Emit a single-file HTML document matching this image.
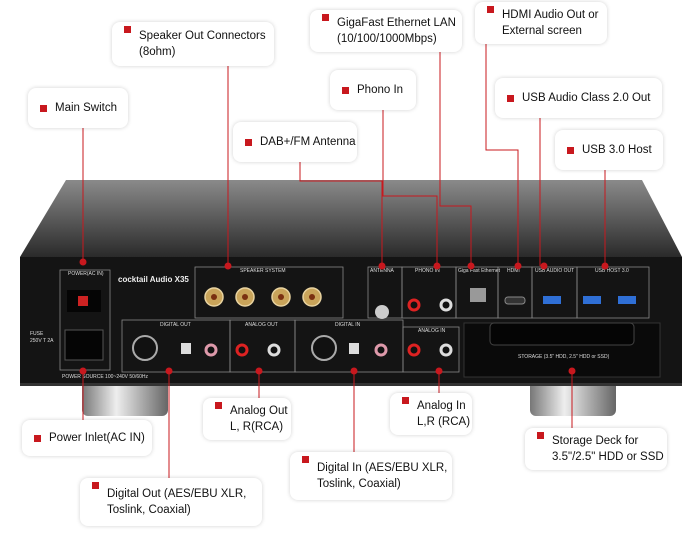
<!DOCTYPE html>
<html><head><meta charset="utf-8"><style>
body{margin:0;width:700px;height:536px;background:#fff;position:relative;overflow:hidden;font-family:"Liberation Sans",sans-serif}
.b{position:absolute;background:#fff;border-radius:8px;box-shadow:0 0 4px rgba(0,0,0,.18);font-size:11.5px;color:#111;line-height:16px;box-sizing:border-box;padding:0 0 0 12px;display:flex;align-items:center;white-space:nowrap}
.b i{display:inline-block;width:7px;height:7px;background:#c8181e;margin-right:8px;flex:none;align-self:flex-start;margin-top:4px}
.b.c i{align-self:center;margin-top:0}
.b span{display:block}
svg{position:absolute;left:0;top:0}
</style></head><body>
<svg width="700" height="536" viewBox="0 0 700 536">
<defs>
<linearGradient id="tp" x1="0" y1="0" x2="0" y2="1"><stop offset="0" stop-color="#8a8a8a"/><stop offset="0.5" stop-color="#5a5a5a"/><stop offset="1" stop-color="#2a2a2a"/></linearGradient>
<linearGradient id="ft" x1="0" y1="0" x2="1" y2="0"><stop offset="0" stop-color="#777"/><stop offset="0.4" stop-color="#eee"/><stop offset="1" stop-color="#666"/></linearGradient>
</defs>
<rect x="82" y="380" width="86" height="36" rx="6" fill="url(#ft)"/>
<rect x="530" y="380" width="86" height="36" rx="6" fill="url(#ft)"/>
<polygon points="20,257 682,257 642,180 66,180" fill="url(#tp)"/>
<rect x="20" y="257" width="662" height="128" fill="#141414"/>
<rect x="20" y="383" width="662" height="3" fill="#333"/>
<g fill="none" stroke="#888" stroke-width="0.8">
<rect x="60" y="270" width="50" height="100"/>
<rect x="195" y="267" width="148" height="51"/>
<rect x="122" y="320" width="108" height="52"/>
<rect x="230" y="320" width="65" height="52"/>
<rect x="295" y="320" width="108" height="52"/>
<rect x="368" y="267" width="34" height="51"/>
<rect x="402" y="267" width="54" height="51"/>
<rect x="403" y="327" width="56" height="45"/>
<rect x="456" y="267" width="42" height="51"/>
<rect x="498" y="267" width="34" height="51"/>
<rect x="532" y="267" width="45" height="51"/>
<rect x="577" y="267" width="72" height="51"/>
</g>
<rect x="464" y="323" width="196" height="54" fill="#0a0a0a" stroke="#333"/>
<rect x="490" y="323" width="144" height="22" rx="4" fill="#050505" stroke="#444"/>
<rect x="67" y="290" width="34" height="22" fill="#050505"/><rect x="78" y="296" width="10" height="10" fill="#c22"/>
<rect x="65" y="330" width="38" height="30" fill="#050505" stroke="#555"/>
<g fill="#c9a45a" stroke="#e8d3a0" stroke-width="1.5"><circle cx="214" cy="297" r="9"/><circle cx="245" cy="297" r="9"/><circle cx="281" cy="297" r="9"/><circle cx="312" cy="297" r="9"/></g>
<g fill="#7a3010"><circle cx="214" cy="297" r="3"/><circle cx="245" cy="297" r="3"/><circle cx="281" cy="297" r="3"/><circle cx="312" cy="297" r="3"/></g>
<circle cx="145" cy="348" r="12" fill="#111" stroke="#aaa" stroke-width="2"/>
<circle cx="324" cy="348" r="12" fill="#111" stroke="#aaa" stroke-width="2"/>
<circle cx="382" cy="312" r="7" fill="#ccc"/>
<g stroke-width="3" fill="#111"><circle cx="414" cy="305" r="5" stroke="#d22"/><circle cx="446" cy="305" r="5" stroke="#ddd"/><circle cx="242" cy="350" r="5" stroke="#d22"/><circle cx="274" cy="350" r="5" stroke="#ddd"/><circle cx="414" cy="350" r="5" stroke="#d22"/><circle cx="446" cy="350" r="5" stroke="#ddd"/><circle cx="211" cy="350" r="5" stroke="#d9a"/><circle cx="381" cy="350" r="5" stroke="#d9a"/></g>
<rect x="181" y="343" width="10" height="11" fill="#ddd"/><rect x="349" y="343" width="10" height="11" fill="#ddd"/>
<rect x="470" y="288" width="16" height="14" fill="#999"/>
<rect x="505" y="297" width="20" height="7" rx="3" fill="#333" stroke="#888"/>
<g fill="#2f6fd6"><rect x="543" y="296" width="18" height="8"/><rect x="583" y="296" width="18" height="8"/><rect x="618" y="296" width="18" height="8"/></g>
<g font-size="5" fill="#ddd" font-family="Liberation Sans"><text x="68" y="275">POWER(AC IN)</text><text x="240" y="272">SPEAKER SYSTEM</text><text x="160" y="326">DIGITAL OUT</text><text x="245" y="326">ANALOG OUT</text><text x="335" y="326">DIGITAL IN</text><text x="370" y="272">ANTENNA</text><text x="415" y="272">PHONO IN</text><text x="458" y="272">Giga Fast Ethernet</text><text x="507" y="272">HDMI</text><text x="535" y="272">USB AUDIO OUT</text><text x="595" y="272">USB HOST 3.0</text><text x="418" y="332">ANALOG IN</text><text x="518" y="358">STORAGE (3.5" HDD, 2.5" HDD or SSD)</text><text x="62" y="378">POWER SOURCE 100~240V 50/60Hz</text><text x="30" y="335">FUSE</text><text x="30" y="342">250V T 2A</text></g>
<text x="118" y="282" font-size="8" fill="#eee" font-weight="bold">cocktail Audio X35</text>
<g stroke="#c8181e" stroke-width="1" fill="none">
<path d="M83 128V262M228 66V266M300 162V181H382V266M383 110V196H437V266M440 52V206H471V266M486 44V150H518V266M540 118V266M605 170V266"/>
<path d="M83 371V420M259 371V398M439 371V393M169 371V478M354 371V452M572 371V428"/>
</g>
<g fill="#c8181e"><circle cx="83" cy="262" r="3.5"/><circle cx="228" cy="266" r="3.5"/><circle cx="382" cy="266" r="3.5"/><circle cx="437" cy="266" r="3.5"/><circle cx="471" cy="266" r="3.5"/><circle cx="518" cy="266" r="3.5"/><circle cx="544" cy="266" r="3.5"/><circle cx="605" cy="266" r="3.5"/>
<circle cx="83" cy="371" r="3.5"/><circle cx="169" cy="371" r="3.5"/><circle cx="259" cy="371" r="3.5"/><circle cx="354" cy="371" r="3.5"/><circle cx="439" cy="371" r="3.5"/><circle cx="572" cy="371" r="3.5"/></g>
</svg>
<div class="b c" style="left:28px;top:88px;width:100px;height:40px"><i></i>Main Switch</div>
<div class="b" style="left:112px;top:22px;width:162px;height:44px"><i></i><span>Speaker Out Connectors<br>(8ohm)</span></div>
<div class="b c" style="left:233px;top:122px;width:124px;height:40px"><i></i>DAB+/FM Antenna</div>
<div class="b c" style="left:330px;top:70px;width:86px;height:40px"><i></i>Phono In</div>
<div class="b" style="left:310px;top:10px;width:152px;height:42px"><i></i><span>GigaFast Ethernet LAN<br>(10/100/1000Mbps)</span></div>
<div class="b" style="left:475px;top:2px;width:132px;height:42px"><i></i><span>HDMI Audio Out or<br>External screen</span></div>
<div class="b c" style="left:495px;top:78px;width:167px;height:40px"><i></i>USB Audio Class 2.0 Out</div>
<div class="b c" style="left:555px;top:130px;width:108px;height:40px"><i></i>USB 3.0 Host</div>
<div class="b c" style="left:22px;top:420px;width:130px;height:36px"><i></i>Power Inlet(AC IN)</div>
<div class="b" style="left:203px;top:398px;width:88px;height:42px"><i></i><span>Analog Out<br>L, R(RCA)</span></div>
<div class="b" style="left:390px;top:393px;width:82px;height:42px"><i></i><span>Analog In<br>L,R (RCA)</span></div>
<div class="b" style="left:80px;top:478px;width:182px;height:48px"><i></i><span>Digital Out (AES/EBU XLR,<br>Toslink, Coaxial)</span></div>
<div class="b" style="left:290px;top:452px;width:162px;height:48px"><i></i><span>Digital In (AES/EBU XLR,<br>Toslink, Coaxial)</span></div>
<div class="b" style="left:525px;top:428px;width:142px;height:42px"><i></i><span>Storage Deck for<br>3.5"/2.5" HDD or SSD</span></div>
</body></html>
